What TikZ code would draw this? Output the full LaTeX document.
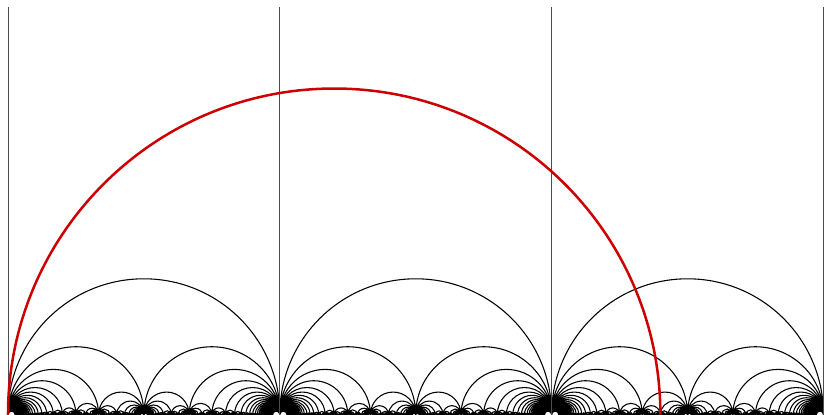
\documentclass[tikz,border=0pt]{standalone}
\definecolor{arcred}{HTML}{CC0000}
\newcount\Fq \newcount\Fp \newcount\Fb \newcount\Fr \newcount\Fa \newcount\Fs \newcount\Fsh
\newdimen\UL \UL=4cm
\newdimen\FX \newdimen\FR
\def\FareyMax{38}
% arc from left point #1/#2 with radius UL/(2*#3), repeated at shifts 0,1,2
\def\FaddArcShift#1#2{%
  \FX=\dimexpr\UL*\numexpr(#1)+\Fsh*(#2)\relax/\numexpr#2\relax\relax
  \pgfpathmoveto{\pgfqpoint{\FX}{0pt}}%
  \pgfpatharc{180}{0}{\the\FR}}
\def\FaddArc#1#2#3{%
  \FR=\dimexpr\UL/\numexpr2*(#3)\relax\relax
  \Fsh=0 \FaddArcShift{#1}{#2}%
  \Fsh=1 \FaddArcShift{#1}{#2}%
  \Fsh=2 \FaddArcShift{#1}{#2}}
\def\Fedges{%
  \Fa=\numexpr(\Fp*\Fs-1)/\Fq\relax
  \FaddArc{\Fa}{\Fs}{\Fs*\Fq}%
  \FaddArc{\Fp}{\Fq}{\Fq*(\Fq-\Fs)}}
\def\Bloop{%
  \advance\Fb 1
  \ifnum\Fb<\Fq
    \advance\Fr\Fp
    \ifnum\Fr<\Fq\else\advance\Fr-\Fq\fi
    \ifnum\Fr=1 \Fs=\Fb\fi
    \expandafter\Bloop
  \fi}
\def\Ploop{%
  \ifnum\Fp<\Fq
    \Fb=0 \Fr=0 \Fs=0
    \Bloop
    \ifnum\Fs>0 \Fedges\fi
    \advance\Fp 1
    \expandafter\Ploop
  \fi}
\def\Qloop{%
  \ifnum\Fq>\FareyMax\relax\else
    \Fp=1 \Ploop
    \advance\Fq 1
    \expandafter\Qloop
  \fi}
\tikzset{
  vline/.style={draw=black!70, line width=0.4pt},
  geod/.style={draw=arcred, line width=1.05pt}
}
\begin{document}
\begin{tikzpicture}[x=4cm,y=4cm]
\useasboundingbox (-0.0294,0) rectangle (3.002,1.5257);
\foreach \i in {0,1,2,3} {
  \coordinate (b\i) at (\i,0);
  \coordinate (t\i) at (\i,1.5);
}
\begin{pgfscope}
\pgfsetlinewidth{0.45pt}
\pgfsetstrokecolor{black}
\FaddArc{0}{1}{1}%
\Fq=2 \Qloop
\pgfusepath{stroke}
\end{pgfscope}
\foreach \i in {0,1,2,3} \draw[vline] (b\i) -- (t\i);
\coordinate (r0) at (0,0);
\draw[geod] (r0) arc[start angle=180, end angle=0, radius=1.2];
\end{tikzpicture}
\end{document}
